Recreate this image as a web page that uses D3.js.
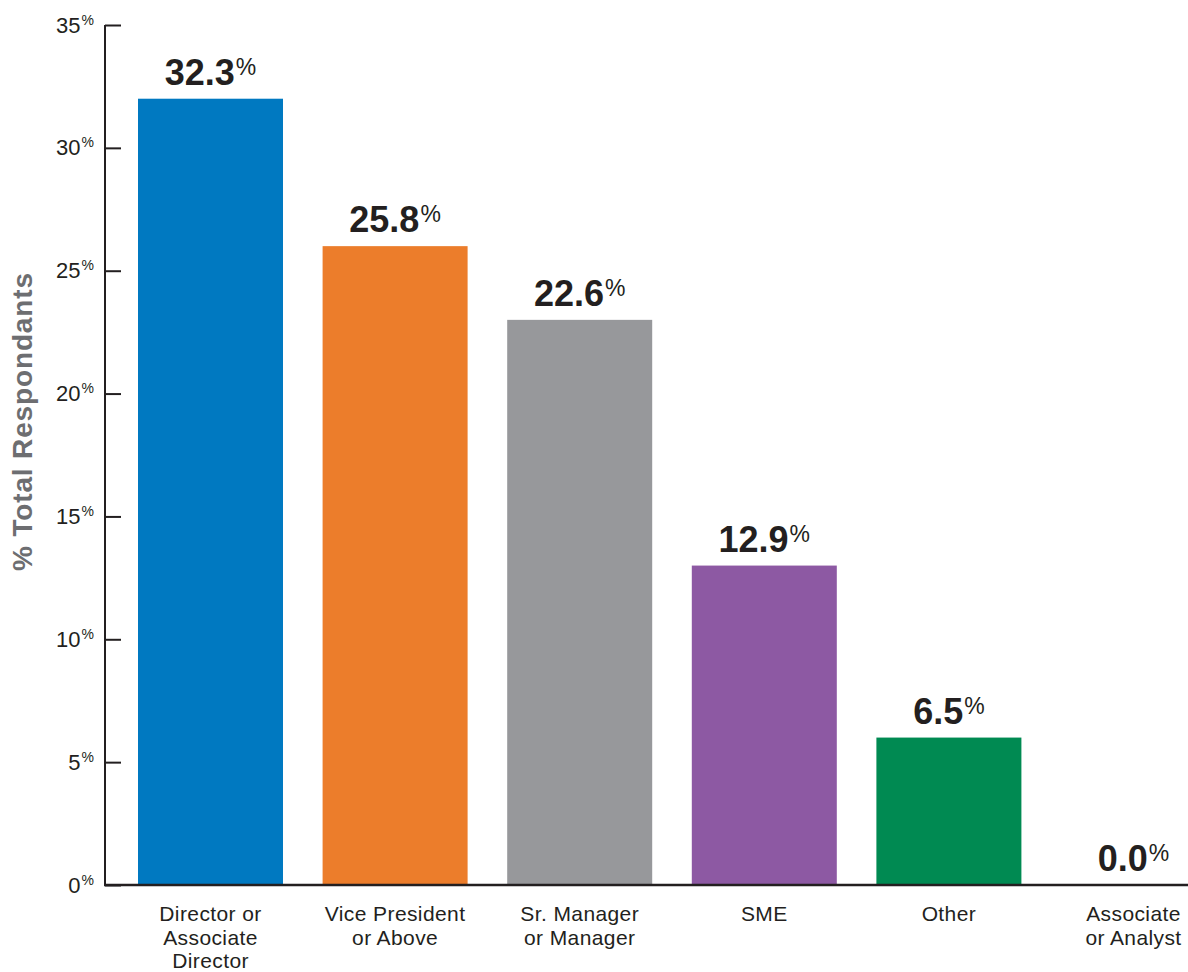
<!DOCTYPE html>
<html>
<head>
<meta charset="utf-8">
<script src="https://cdn.jsdelivr.net/npm/d3@7"></script>
<style>
html,body{margin:0;padding:0;background:#fff;}
svg{display:block;font-family:"Liberation Sans",Arial,Helvetica,sans-serif;}
</style>
</head>
<body>
<svg id="chart" width="1188" height="972"></svg>
<script>
const categories = [["Director or","Associate","Director"],["Vice President","or Above"],["Sr. Manager","or Manager"],["SME"],["Other"],["Associate","or Analyst"]];
const barValues = [32, 26, 23, 13, 6, 0];
const labelValues = ["32.3", "25.8", "22.6", "12.9", "6.5", "0.0"];
const colors = ["#0079c1", "#ec7d2b", "#97989b", "#8d59a3", "#008a52", "#008a52"];
const yTicks = [0, 5, 10, 15, 20, 25, 30, 35];
const yTitle = "% Total Respondants";

const svg = d3.select("#chart");
const ink = "#231f20";
const idx = d3.range(categories.length);

const y = d3.scaleLinear().domain([0, 35]).range([885, 25]);
const x = d3.scaleBand().domain(idx).range([118.2, 1225.8]).paddingInner(0.2145).paddingOuter(0.10725);

// bars
svg.selectAll("rect.bar").data(idx).join("rect")
  .attr("class","bar")
  .attr("x", i => x(i))
  .attr("width", x.bandwidth())
  .attr("y", i => y(barValues[i]))
  .attr("height", i => y(0) - y(barValues[i]))
  .attr("fill", i => colors[i]);

// y axis
const axisX = 105;
const yAxis = d3.axisRight(y).tickValues(yTicks).tickSize(16).tickFormat("");
const gy = svg.append("g").attr("transform", `translate(${axisX},0)`).call(yAxis);
gy.select(".domain").attr("stroke", ink).attr("stroke-width", 2).attr("d", `M0,${y(35)}V${y(0)}`);
gy.selectAll(".tick line").attr("stroke", ink).attr("stroke-width", 2);

// tick labels
const tl = svg.append("g").selectAll("text").data(yTicks).join("text")
  .attr("x", 94).attr("y", d => y(d) + 7.5)
  .attr("text-anchor", "end").attr("fill", ink).attr("font-size", 22);
tl.append("tspan").text(d => d);
tl.append("tspan").text("%").attr("font-size", 14).attr("dy", -8).attr("dx", 1);

// baseline
svg.append("line").attr("x1", axisX - 1).attr("x2", 1188).attr("y1", y(0)).attr("y2", y(0))
  .attr("stroke", ink).attr("stroke-width", 2.5);

// value labels
const vl = svg.append("g").selectAll("text").data(idx).join("text")
  .attr("x", i => x(i) + x.bandwidth()/2)
  .attr("y", i => y(barValues[i]) - 14)
  .attr("text-anchor", "middle").attr("fill", ink)
  .attr("font-size", 36).attr("font-weight", "bold");
vl.append("tspan").text(i => labelValues[i]);
vl.append("tspan").text("%").attr("font-size", 23).attr("font-weight", "normal").attr("dy", -10).attr("dx", 1);

// category labels
const cl = svg.append("g").selectAll("text").data(idx).join("text")
  .attr("x", i => x(i) + x.bandwidth()/2)
  .attr("y", 921)
  .attr("text-anchor", "middle").attr("fill", ink).attr("font-size", 21).attr("letter-spacing", 0.4);
cl.selectAll("tspan").data(i => categories[i].map(t => ({t, i}))).join("tspan")
  .attr("x", d => x(d.i) + x.bandwidth()/2)
  .attr("dy", (d, k) => k === 0 ? 0 : 23.5)
  .text(d => d.t);

// y title
svg.append("text")
  .attr("transform", "translate(32,422) rotate(-90)")
  .attr("text-anchor", "middle").attr("fill", "#6d6e71")
  .attr("font-size", 28).attr("font-weight", "bold")
  .attr("textLength", 298).attr("lengthAdjust", "spacing")
  .text(yTitle);
</script>
</body>
</html>
